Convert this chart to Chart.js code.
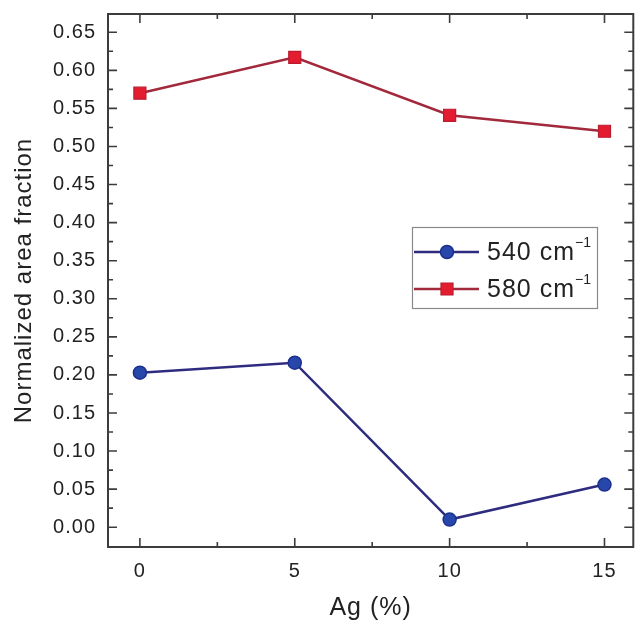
<!DOCTYPE html>
<html><head><meta charset="utf-8">
<script src="https://cdn.jsdelivr.net/npm/chart.js@4/dist/chart.umd.min.js"></script>
<style>html,body{margin:0;padding:0;background:#fff;overflow:hidden}canvas{display:block}</style>
</head><body><canvas id="c" width="643" height="624" style="width:643px;height:624px"></canvas>
<script>
// ---- data ----
const agPercent = [0, 5, 10, 15];
const area540 = [0.203, 0.216, 0.010, 0.056];
const area580 = [0.570, 0.617, 0.541, 0.520];
const xTicks = [0, 5, 10, 15];
const yTicks = [0.00, 0.05, 0.10, 0.15, 0.20, 0.25, 0.30, 0.35, 0.40, 0.45, 0.50, 0.55, 0.60, 0.65];
const seriesNames = ['540 cm', '580 cm'];
const seriesSup = ['\u22121', '\u22121'];
const xTitle = 'Ag (%)';
const yTitle = 'Normalized area fraction';

const FONT = "'Liberation Sans', Arial, sans-serif";
const AXIS = '#3c3c3c';

function pts(ys){ return agPercent.map((x,i)=>({x:x, y:ys[i]})); }
function noPad(s){ s.paddingTop=0; s.paddingBottom=0; s.paddingLeft=0; s.paddingRight=0; }

const framePlugin = {
  id: 'frame',
  beforeDraw(chart){ chart.ctx.letterSpacing = '1px'; },
  beforeDatasetsDraw(chart){
    const {ctx, chartArea:a, scales} = chart;
    const xs = scales.x, ys = scales.y;
    ctx.save();
    ctx.letterSpacing = '0px';
    ctx.strokeStyle = AXIS;
    ctx.lineWidth = 1.6;
    const maj = 9, min = 5;
    const xMinor = [];
    for (let i=0;i<xTicks.length-1;i++){ xMinor.push((xTicks[i]+xTicks[i+1])/2); }
    ctx.beginPath();
    xTicks.forEach(v=>{ const p=xs.getPixelForValue(v); ctx.moveTo(p,a.bottom); ctx.lineTo(p,a.bottom-maj); ctx.moveTo(p,a.top); ctx.lineTo(p,a.top+maj); });
    xMinor.forEach(v=>{ const p=xs.getPixelForValue(v); ctx.moveTo(p,a.bottom); ctx.lineTo(p,a.bottom-min); ctx.moveTo(p,a.top); ctx.lineTo(p,a.top+min); });
    const yMinor = [];
    const st = yTicks[1]-yTicks[0];
    yMinor.push(yTicks[0]-st/2);
    for (let i=0;i<yTicks.length;i++){ yMinor.push(yTicks[i]+st/2); }
    yTicks.forEach(v=>{ const p=ys.getPixelForValue(v); ctx.moveTo(a.left,p); ctx.lineTo(a.left+maj,p); ctx.moveTo(a.right,p); ctx.lineTo(a.right-maj,p); });
    yMinor.forEach(v=>{ const p=ys.getPixelForValue(v); if(p<a.top+1||p>a.bottom-1) return; ctx.moveTo(a.left,p); ctx.lineTo(a.left+min,p); ctx.moveTo(a.right,p); ctx.lineTo(a.right-min,p); });
    ctx.stroke();
    ctx.lineWidth = 2;
    ctx.strokeRect(a.left, a.top, a.right-a.left, a.bottom-a.top);
    ctx.restore();
  },
  afterDatasetsDraw(chart){
    const ctx = chart.ctx;
    ctx.save();
    ctx.letterSpacing = '1px';
    const bx=412, by=227, bw=185, bh=81;
    ctx.fillStyle='#fff'; ctx.fillRect(bx,by,bw,bh);
    ctx.strokeStyle='#8a8a8a'; ctx.lineWidth=1.2; ctx.strokeRect(bx+0.5,by+0.5,bw,bh);
    const rows=[252,289];
    chart.data.datasets.forEach((ds,i)=>{
      const y=rows[i];
      ctx.strokeStyle=ds.borderColor; ctx.lineWidth=ds.borderWidth;
      ctx.beginPath(); ctx.moveTo(414,y); ctx.lineTo(479,y); ctx.stroke();
      ctx.fillStyle=ds.pointBackgroundColor; ctx.strokeStyle=ds.pointBorderColor; ctx.lineWidth=ds.pointBorderWidth;
      Chart.helpers.drawPoint(ctx,{pointStyle:ds.pointStyle,radius:ds.pointRadius,borderWidth:ds.pointBorderWidth},447,y);
      ctx.fillStyle='#222';
      ctx.font = "25px " + FONT;
      ctx.textBaseline='alphabetic'; ctx.textAlign='left';
      ctx.fillText(seriesNames[i],487,y+8);
      const w = ctx.measureText(seriesNames[i]).width;
      ctx.font = "14px " + FONT;
      ctx.letterSpacing='0px';
      ctx.fillText(seriesSup[i],487+w,y-5);
      ctx.letterSpacing='1px';
    });
    ctx.restore();
  }
};

const cfg = {
  type: 'line',
  data: {
    datasets: [
      { label: seriesNames[0], data: pts(area540), borderColor:'#2f2c80', borderWidth:2.5,
        pointStyle:'circle', pointRadius:6.5, pointBackgroundColor:'#2747aa', pointBorderColor:'#1d2f8c', pointBorderWidth:1.5, tension:0 },
      { label: seriesNames[1], data: pts(area580), borderColor:'#a2293b', borderWidth:2.5,
        pointStyle:'rect', pointRadius:8.5, pointBackgroundColor:'#e31c2f', pointBorderColor:'#b91b30', pointBorderWidth:1.2, tension:0 }
    ]
  },
  options: {
    responsive:false, maintainAspectRatio:false, animation:false, devicePixelRatio:1,
    layout:{ padding:{ top:14, right:2, left:0, bottom:0 } },
    plugins:{ legend:{display:false}, tooltip:{enabled:false} },
    scales:{
      x:{ type:'linear', min:-1.03, max:15.93,
        afterFit(s){ s.height = 77; noPad(s); },
        afterBuildTicks(s){ s.ticks = xTicks.map(v=>({value:v})); },
        grid:{display:false, drawTicks:false}, border:{display:false},
        ticks:{ padding:12, color:'#222', font:{family:FONT, size:20}, callback:v=>String(v), maxRotation:0, autoSkip:false },
        title:{ display:true, text:xTitle, color:'#222', font:{family:FONT, size:25}, padding:{top:0,bottom:1} }
      },
      y:{ type:'linear', min:-0.026, max:0.674,
        afterFit(s){ s.width = 108; noPad(s); },
        afterBuildTicks(s){ s.ticks = yTicks.map(v=>({value:v})); },
        grid:{display:false, drawTicks:false}, border:{display:false},
        ticks:{ padding:12, color:'#222', font:{family:FONT, size:20}, callback:v=>Number(v).toFixed(2), autoSkip:false },
        title:{ display:true, text:yTitle, color:'#222', font:{family:FONT, size:24}, padding:{top:10,bottom:0} }
      }
    }
  },
  plugins:[framePlugin]
};
new Chart(document.getElementById('c'), cfg);
</script>
</body></html>
